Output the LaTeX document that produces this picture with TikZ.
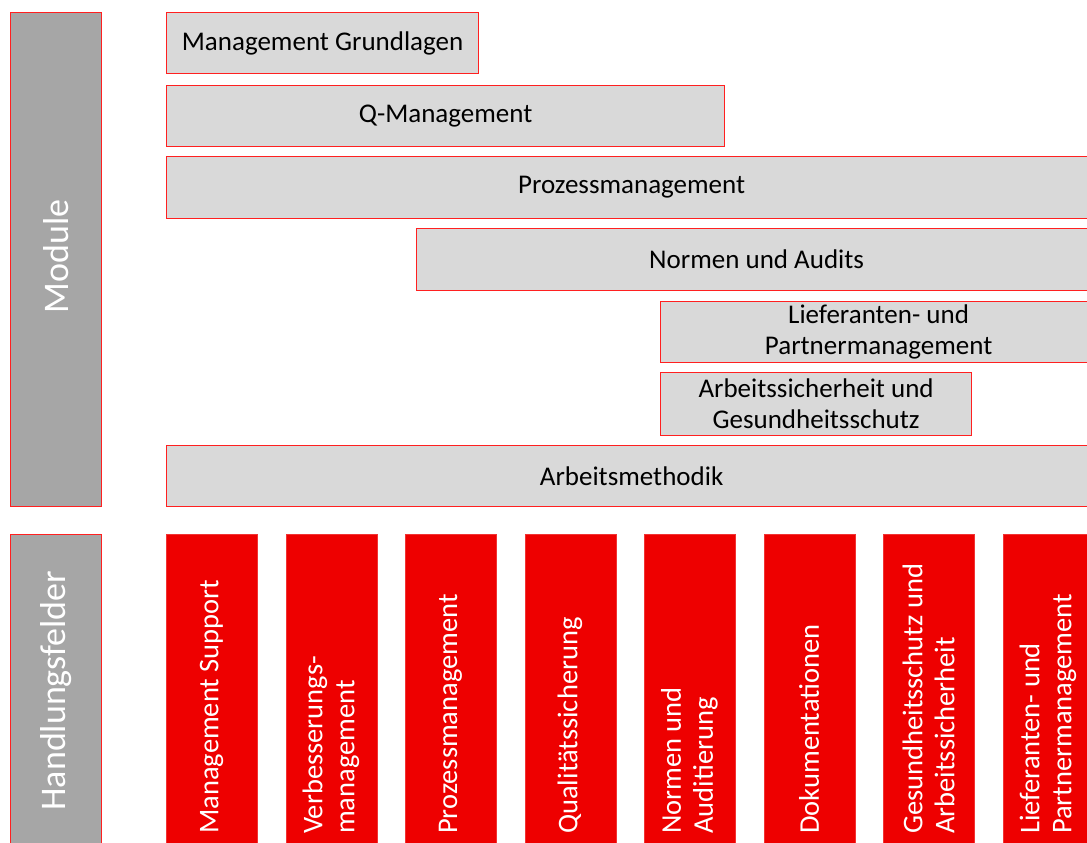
\documentclass[tikz,border=0pt]{standalone}
\usepackage{fontspec}
\setmainfont{Carlito}
\usetikzlibrary{calc}
\definecolor{boxred}{HTML}{FF2020}
\definecolor{hfred}{HTML}{EE0000}
\definecolor{modgray}{HTML}{D9D9D9}
\definecolor{bargray}{HTML}{A6A6A6}
\begin{document}
\begin{tikzpicture}[x=1pt,y=-1pt,
  modbox/.style={rectangle, draw=boxred, fill=modgray, line width=1.2pt, anchor=north west,
    inner sep=0pt, minimum height=61, align=center, font=\fontsize{27}{31}\selectfont},
  sidebar/.style={rectangle, draw=boxred, fill=bargray, line width=1.2pt, anchor=north west,
    inner sep=0pt, minimum width=91},
  sidelabel/.style={rotate=90, text=white, font=\fontsize{36}{40}\selectfont},
  hfbox/.style={rectangle, draw=hfred!80!white, fill=hfred, line width=0.8pt, anchor=north west,
    inner sep=0pt, minimum width=91, minimum height=330},
  hflabel/.style={rotate=90, anchor=west, inner sep=0pt, text=white, align=left,
    font=\fontsize{28.5}{32}\selectfont}]
\useasboundingbox (0,0) rectangle (1087,843);
\clip (0,0) rectangle (1087,843);
% left bars
\node at (10,12)  (modbar) [sidebar, minimum height=494] {};
\node at ([yshift=3]modbar.center) [sidelabel] {Module};
\node at (10,534) (hfbar)  [sidebar, minimum height=312] {};
\node at (hfbar.center) [sidelabel] {Handlungsfelder};
% modules
\node at (166,12)  (grundlagen) [modbox, minimum width=312] {Management Grundlagen};
\node at (166,85)  (qm)         [modbox, minimum width=558] {Q-Management};
\node at (166,156) (prozess)    [modbox, minimum width=930, minimum height=62] {Prozessmanagement};
\node at (416,228) (normen)     [modbox, minimum width=680, minimum height=62] {Normen und Audits};
\node at (660,301) (lieferant)  [modbox, minimum width=436] {Lieferanten- und\\Partnermanagement};
\node at (660,372) (arbeitss)   [modbox, minimum width=311, minimum height=63] {Arbeitssicherheit und\\Gesundheitsschutz};
\node at (166,445) (methodik)   [modbox, minimum width=930] {Arbeitsmethodik};
% handlungsfelder
\foreach \txt [count=\i from 0] in {{Management Support}, {Verbesserungs-\\management},
    {Prozessmanagement}, {Qualitätssicherung}, {Normen und\\Auditierung},
    {Dokumentationen}, {Gesundheitsschutz und\\Arbeitssicherheit},
    {Lieferanten- und\\Partnermanagement}} {
  \node at (166+119.5*\i,534) (hf\i) [hfbox] {};
  \node at ($(hf\i.north west)+(45.5,300)$) [hflabel] {\txt};
}
\end{tikzpicture}
\end{document}
